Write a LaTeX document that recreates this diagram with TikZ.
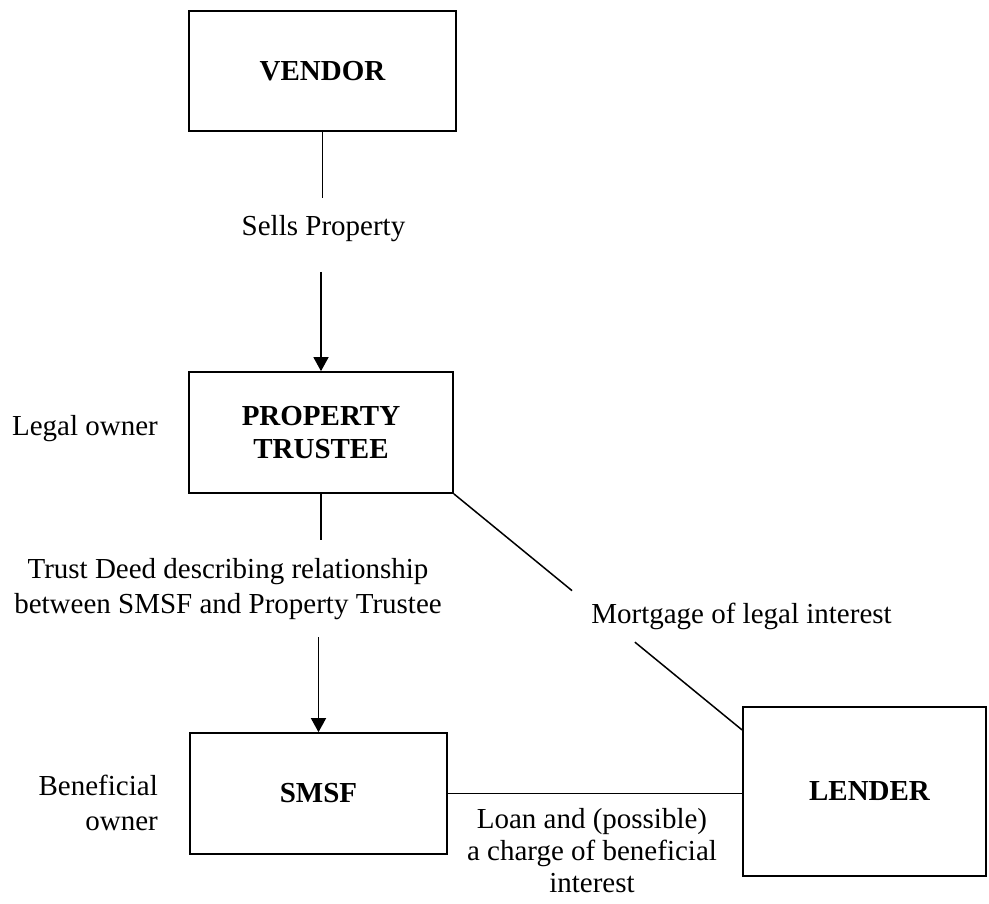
\documentclass[tikz,border=0pt]{standalone}
\usepackage{fontspec}
\setmainfont{Liberation Serif}
\usetikzlibrary{arrows.meta,calc}
\begin{document}
\begin{tikzpicture}[x=1pt,y=-1pt,
  box/.style={draw,line width=1.7pt,inner sep=0pt,align=center,
    font=\fontsize{29}{33}\selectfont\bfseries},
  lbl/.style={inner sep=0pt,font=\fontsize{29}{35}\selectfont},
  conn/.style={line width=1.5pt},
  arr/.style={conn,-{Triangle[width=15pt,length=14pt]}}]
\useasboundingbox (0,0) rectangle (989,904);
% boxes
\node[box,minimum width=267pt,minimum height=120pt] (V) at (322.5,71) {VENDOR};
\node[box,minimum width=264pt,minimum height=121pt] (PT) at (321,432.5) {PROPERTY\\TRUSTEE};
\node[box,minimum width=257pt,minimum height=121pt] (S) at (318.5,793.5) {SMSF};
\node[box,minimum width=243pt,minimum height=169pt] (L) at (864.5,791.5) {\hspace*{10pt}LENDER};
% labels (anchor base = baseline of last line)
\node[lbl,anchor=base] (sells) at (323.5,236) {Sells Property};
\node[lbl,anchor=base] (legal) at (85,435) {Legal owner};
\node[lbl,anchor=base,align=center] (deed) at (228,613) {Trust Deed describing relationship\\between SMSF and Property Trustee};
\node[lbl,anchor=base] (mort) at (741.5,623) {Mortgage of legal interest};
\node[lbl,anchor=base east,align=right] (benef) at (158,830) {Beneficial\\owner};
\node[lbl,anchor=base,align=center,font=\fontsize{29}{32}\selectfont] (loan) at (592,892) {Loan and (possible)\\a charge of beneficial\\interest};
% connectors
\coordinate (s1) at (V.south |- 0,198);
\coordinate (s2) at (PT.north |- 0,272);
\draw[conn] (V.south) -- (s1);
\draw[arr] (s2) -- (PT.north);
\coordinate (t1) at (PT.south |- 0,540);
\coordinate (t2) at (S.north |- 0,637);
\draw[conn] (PT.south) -- (t1);
\draw[arr] (t2) -- (S.north);
\coordinate (l1) at (L.west |- 0,730);
\draw[conn] (PT.south east) -- ($(PT.south east)!0.41!(l1)$);
\draw[conn] ($(PT.south east)!0.628!(l1)$) -- (l1);
\draw[conn] (S.east) -- (S.east -| L.west);
\end{tikzpicture}
\end{document}
